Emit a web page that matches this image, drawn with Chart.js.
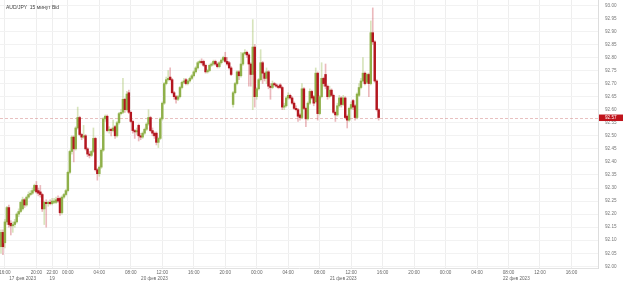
<!DOCTYPE html>
<html>
<head>
<meta charset="utf-8">
<script src="https://cdn.jsdelivr.net/npm/chart.js@4.4.1/dist/chart.umd.min.js"></script>
<style>
  html, body { margin: 0; padding: 0; background: #ffffff; }
  #wrap { position: relative; width: 625px; height: 281px; }
  #title { position: absolute; left: 6px; top: 4px; font: 5px "Liberation Sans", Arial, sans-serif; color: #444; white-space: pre; }
</style>
</head>
<body>
<div id="wrap">
  <canvas id="c" width="625" height="281"></canvas>
  <div id="title">AUD/JPY  15 минут Bid</div>
</div>
<script>
// ---- data (AUD/JPY, 15-minute candles, 17–21 Feb 2023) ----
const opens = [
  92.075, 92.13, 92.09, 92.17, 92.225, 92.165, 92.155, 92.16, 92.17, 92.20,
  92.21, 92.22, 92.255, 92.235, 92.265, 92.275, 92.28, 92.29, 92.31, 92.29,
  92.285, 92.275, 92.22, 92.245, 92.24, 92.245, 92.24, 92.245, 92.245, 92.26,
  92.26, 92.205, 92.265, 92.275, 92.29, 92.36, 92.44, 92.495, 92.45, 92.53,
  92.57, 92.505, 92.495, 92.50, 92.45, 92.43, 92.425, 92.44, 92.49, 92.37,
  92.355, 92.38, 92.445, 92.565, 92.575, 92.52, 92.525, 92.52, 92.535, 92.50,
  92.55, 92.585, 92.59, 92.64, 92.60, 92.665, 92.59, 92.555, 92.52, 92.515,
  92.54, 92.50, 92.495, 92.51, 92.525, 92.545, 92.57, 92.52, 92.51, 92.51,
  92.475, 92.49, 92.565, 92.625, 92.70, 92.715, 92.725, 92.715, 92.665, 92.65,
  92.64, 92.65, 92.685, 92.705, 92.715, 92.70, 92.71, 92.72, 92.73, 92.745,
  92.76, 92.78, 92.785, 92.785, 92.77, 92.745, 92.75, 92.77, 92.775, 92.785,
  92.775, 92.765, 92.78, 92.79, 92.80, 92.785, 92.78, 92.76, 92.62, 92.665,
  92.70, 92.745, 92.73, 92.775, 92.815, 92.82, 92.81, 92.775, 92.735, 92.84,
  92.65, 92.68, 92.715, 92.78, 92.74, 92.72, 92.745, 92.69, 92.685, 92.70,
  92.695, 92.69, 92.695, 92.685, 92.61, 92.615, 92.645, 92.655, 92.645, 92.625,
  92.605, 92.60, 92.58, 92.57, 92.68, 92.605, 92.565, 92.625, 92.67, 92.65,
  92.63, 92.74, 92.585, 92.65, 92.72, 92.735, 92.69, 92.65, 92.675, 92.655,
  92.59, 92.58, 92.615, 92.645, 92.62, 92.645, 92.575, 92.56, 92.605, 92.635,
  92.615, 92.57, 92.655, 92.685, 92.71, 92.74, 92.705, 92.735, 92.70, 92.895,
  92.86, 92.71, 92.60
];
const closes = [
  92.13, 92.075, 92.17, 92.225, 92.16, 92.155, 92.16, 92.17, 92.20, 92.21,
  92.245, 92.255, 92.235, 92.265, 92.275, 92.28, 92.29, 92.31, 92.285, 92.28,
  92.275, 92.22, 92.245, 92.24, 92.245, 92.24, 92.25, 92.25, 92.255, 92.25,
  92.205, 92.265, 92.275, 92.29, 92.36, 92.44, 92.495, 92.45, 92.53, 92.57,
  92.505, 92.495, 92.50, 92.45, 92.43, 92.425, 92.44, 92.49, 92.37, 92.355,
  92.38, 92.445, 92.565, 92.575, 92.52, 92.525, 92.52, 92.53, 92.50, 92.55,
  92.585, 92.59, 92.64, 92.60, 92.66, 92.59, 92.555, 92.52, 92.515, 92.52,
  92.50, 92.495, 92.51, 92.525, 92.545, 92.57, 92.52, 92.51, 92.50, 92.475,
  92.49, 92.565, 92.625, 92.70, 92.715, 92.72, 92.715, 92.665, 92.65, 92.64,
  92.65, 92.685, 92.705, 92.71, 92.70, 92.71, 92.72, 92.73, 92.745, 92.76,
  92.78, 92.785, 92.78, 92.77, 92.745, 92.75, 92.77, 92.775, 92.785, 92.775,
  92.765, 92.78, 92.79, 92.80, 92.785, 92.775, 92.76, 92.735, 92.665, 92.70,
  92.745, 92.73, 92.775, 92.815, 92.82, 92.81, 92.775, 92.735, 92.84, 92.65,
  92.68, 92.715, 92.78, 92.74, 92.72, 92.745, 92.69, 92.685, 92.70, 92.695,
  92.69, 92.685, 92.685, 92.61, 92.615, 92.645, 92.655, 92.645, 92.625, 92.605,
  92.60, 92.575, 92.57, 92.68, 92.605, 92.565, 92.625, 92.67, 92.645, 92.625,
  92.74, 92.585, 92.65, 92.72, 92.70, 92.69, 92.65, 92.675, 92.655, 92.59,
  92.58, 92.615, 92.645, 92.62, 92.645, 92.57, 92.56, 92.605, 92.62, 92.61,
  92.57, 92.66, 92.685, 92.71, 92.74, 92.70, 92.735, 92.70, 92.895, 92.86,
  92.71, 92.60, 92.57
];
const highs = [
  92.14, 92.14, 92.18, 92.23, 92.235, 92.175, 92.17, 92.18, 92.205, 92.22,
  92.25, 92.265, 92.26, 92.27, 92.285, 92.29, 92.30, 92.315, 92.325, 92.30,
  92.31, 92.28, 92.25, 92.255, 92.25, 92.255, 92.26, 92.26, 92.265, 92.27,
  92.265, 92.27, 92.28, 92.295, 92.365, 92.445, 92.50, 92.50, 92.535, 92.61,
  92.575, 92.51, 92.54, 92.505, 92.455, 92.44, 92.445, 92.53, 92.495, 92.375,
  92.385, 92.45, 92.57, 92.58, 92.58, 92.535, 92.53, 92.56, 92.54, 92.555,
  92.59, 92.60, 92.72, 92.645, 92.67, 92.675, 92.595, 92.56, 92.525, 92.53,
  92.545, 92.51, 92.515, 92.53, 92.55, 92.60, 92.575, 92.53, 92.515, 92.515,
  92.495, 92.57, 92.63, 92.705, 92.725, 92.75, 92.76, 92.72, 92.67, 92.655,
  92.655, 92.69, 92.71, 92.72, 92.72, 92.715, 92.725, 92.735, 92.75, 92.765,
  92.785, 92.79, 92.795, 92.79, 92.775, 92.755, 92.775, 92.78, 92.79, 92.79,
  92.78, 92.785, 92.795, 92.805, 92.82, 92.80, 92.785, 92.765, 92.67, 92.705,
  92.75, 92.75, 92.82, 92.82, 92.83, 92.825, 92.815, 92.78, 92.945, 92.85,
  92.685, 92.72, 92.83, 92.785, 92.745, 92.76, 92.75, 92.70, 92.71, 92.705,
  92.70, 92.695, 92.70, 92.69, 92.625, 92.65, 92.665, 92.66, 92.65, 92.63,
  92.615, 92.605, 92.585, 92.70, 92.685, 92.61, 92.63, 92.68, 92.675, 92.655,
  92.76, 92.745, 92.655, 92.78, 92.725, 92.775, 92.695, 92.69, 92.68, 92.66,
  92.595, 92.625, 92.655, 92.65, 92.655, 92.65, 92.58, 92.61, 92.63, 92.64,
  92.62, 92.665, 92.70, 92.72, 92.80, 92.745, 92.74, 92.74, 92.94, 92.99,
  92.865, 92.715, 92.605
];
const lows = [
  92.05, 92.045, 92.07, 92.16, 92.15, 92.12, 92.13, 92.15, 92.165, 92.19,
  92.205, 92.215, 92.225, 92.23, 92.26, 92.27, 92.275, 92.285, 92.28, 92.27,
  92.265, 92.21, 92.16, 92.15, 92.23, 92.235, 92.235, 92.24, 92.24, 92.245,
  92.195, 92.20, 92.26, 92.27, 92.285, 92.355, 92.43, 92.40, 92.445, 92.525,
  92.50, 92.485, 92.49, 92.445, 92.42, 92.415, 92.42, 92.435, 92.365, 92.33,
  92.345, 92.375, 92.44, 92.555, 92.515, 92.51, 92.50, 92.515, 92.49, 92.495,
  92.545, 92.58, 92.585, 92.59, 92.595, 92.585, 92.55, 92.51, 92.49, 92.505,
  92.48, 92.485, 92.49, 92.505, 92.52, 92.54, 92.515, 92.50, 92.49, 92.465,
  92.455, 92.485, 92.56, 92.62, 92.695, 92.71, 92.71, 92.66, 92.64, 92.625,
  92.635, 92.645, 92.68, 92.70, 92.695, 92.695, 92.705, 92.715, 92.725, 92.74,
  92.755, 92.775, 92.775, 92.765, 92.74, 92.74, 92.745, 92.765, 92.77, 92.77,
  92.76, 92.76, 92.775, 92.785, 92.78, 92.77, 92.755, 92.73, 92.61, 92.66,
  92.695, 92.715, 92.725, 92.77, 92.81, 92.80, 92.69, 92.69, 92.60, 92.61,
  92.64, 92.675, 92.71, 92.70, 92.71, 92.70, 92.68, 92.64, 92.68, 92.69,
  92.685, 92.68, 92.68, 92.60, 92.60, 92.61, 92.64, 92.64, 92.62, 92.60,
  92.595, 92.555, 92.56, 92.565, 92.60, 92.535, 92.56, 92.62, 92.64, 92.615,
  92.625, 92.56, 92.58, 92.645, 92.69, 92.68, 92.64, 92.645, 92.65, 92.585,
  92.555, 92.575, 92.61, 92.61, 92.615, 92.565, 92.53, 92.555, 92.60, 92.60,
  92.56, 92.565, 92.65, 92.68, 92.705, 92.695, 92.70, 92.65, 92.695, 92.85,
  92.705, 92.595, 92.56
];

// x slots: one per 15-minute bar (weekend removed), including empty future slots
const slotCount = 304;
const categories = Array.from({ length: slotCount }, (_, i) => String(i));

// time tick labels (slot index -> text)
const timeTickIdx  = [2, 18, 26, 34, 50, 66, 82, 98, 114, 130, 146, 162, 178, 194, 210, 226, 242, 258, 274, 290];
const timeTickText = ['16:00','20:00','22:00','00:00','04:00','08:00','12:00','16:00','20:00','00:00','04:00','08:00','12:00','16:00','20:00','00:00','04:00','08:00','12:00','16:00'];
// date labels
const dateTickIdx  = [11, 26, 78, 174, 262];
const dateTickText = ['17 фев 2023', '19', '20 фев 2023', '21 фев 2023', '22 фев 2023'];
// price ticks
const yTicks = [92.00, 92.05, 92.10, 92.15, 92.20, 92.25, 92.30, 92.35, 92.40, 92.45, 92.50,
                92.55, 92.60, 92.65, 92.70, 92.75, 92.80, 92.85, 92.90, 92.95, 93.00];

// ---- styling ----
const UP = '#8fb04a', DOWN = '#b3161f';
const UP_WICK = 'rgba(160,190,95,0.42)', DOWN_WICK = 'rgba(205,80,90,0.40)';
const FONT = { family: '"Liberation Sans", Arial, sans-serif', size: 4.6 };

const timeMap = new Map(timeTickIdx.map((v, k) => [v, timeTickText[k]]));
const dateMap = new Map(dateTickIdx.map((v, k) => [v, dateTickText[k]]));

const isUp = closes.map((c, i) => c >= opens[i]);

const lastPricePlugin = {
  id: 'lastPrice',
  beforeDatasetsDraw(chart) {
    const { ctx, chartArea, scales } = chart;
    const y = Math.round(scales.y.getPixelForValue(closes[closes.length - 1])) + 0.5;
    ctx.save();
    ctx.strokeStyle = 'rgba(210,130,130,0.5)';
    ctx.lineWidth = 1;
    ctx.setLineDash([3, 2]);
    ctx.beginPath();
    ctx.moveTo(chartArea.left, y);
    ctx.lineTo(chartArea.right, y);
    ctx.stroke();
    ctx.restore();
  },
  afterDraw(chart) {
    const { ctx, chartArea, scales } = chart;
    const last = closes[closes.length - 1];
    const y = scales.y.getPixelForValue(last);
    ctx.save();
    ctx.fillStyle = '#c0141c';
    ctx.fillRect(chartArea.right + 1, y - 3, 24, 6.5);
    ctx.fillStyle = '#ffffff';
    ctx.font = '4.6px "Liberation Sans", Arial, sans-serif';
    ctx.textBaseline = 'middle';
    ctx.textAlign = 'left';
    ctx.fillText(last.toFixed(2), chartArea.right + 7, y + 0.3);
    ctx.restore();
  }
};

new Chart(document.getElementById('c'), {
  type: 'bar',
  data: {
    labels: categories,
    datasets: [
      {
        label: 'wick',
        data: lows.map((l, i) => [l, highs[i]]),
        backgroundColor: isUp.map(u => u ? UP_WICK : DOWN_WICK),
        barThickness: 1,
        grouped: false,
        order: 2
      },
      {
        label: 'body',
        data: opens.map((o, i) => [o, closes[i]]),
        backgroundColor: isUp.map(u => u ? UP : DOWN),
        barThickness: 1.8,
        minBarLength: 1,
        grouped: false,
        order: 1
      }
    ]
  },
  options: {
    responsive: false,
    devicePixelRatio: 1,
    animation: false,
    layout: { padding: 0, autoPadding: false },
    plugins: { legend: { display: false }, tooltip: { enabled: false }, title: { display: false } },
    scales: {
      x: {
        type: 'category',
        position: 'bottom',
        offset: true,
        ticks: {
          autoSkip: false, maxRotation: 0, minRotation: 0, padding: 2,
          font: FONT, color: '#666',
          callback: (v) => timeMap.has(v) ? timeMap.get(v) : null
        },
        grid: {
          drawTicks: false, offset: false,
          color: (c) => (c.tick && timeMap.has(c.tick.value)) ? '#eeeeee' : 'rgba(0,0,0,0)'
        },
        border: { display: true, color: '#e2e2e2' },
        afterFit: (s) => { s.height = 7.5; s.paddingLeft = 0; s.paddingRight = 0; }
      },
      x2: {
        type: 'category',
        position: 'bottom',
        offset: true,
        ticks: {
          autoSkip: false, maxRotation: 0, minRotation: 0, padding: 0.5,
          font: FONT, color: '#666',
          callback: (v) => dateMap.has(v) ? dateMap.get(v) : null
        },
        grid: { display: false, drawTicks: false },
        border: { display: false },
        afterFit: (s) => { s.height = 5.5; s.paddingLeft = 0; s.paddingRight = 0; }
      },
      y: {
        type: 'linear',
        position: 'right',
        min: 91.9935,
        max: 93.0203,
        afterBuildTicks: (s) => { s.ticks = yTicks.map(v => ({ value: v })); },
        ticks: {
          padding: 7, font: FONT, color: '#777',
          callback: (v) => Number(v).toFixed(2)
        },
        grid: { drawTicks: false, color: '#f2f2f2' },
        border: { display: true, color: '#dddddd' },
        afterFit: (s) => { s.width = 27; s.paddingTop = 0; s.paddingBottom = 0; }
      }
    }
  },
  plugins: [lastPricePlugin]
});
</script>
</body>
</html>
